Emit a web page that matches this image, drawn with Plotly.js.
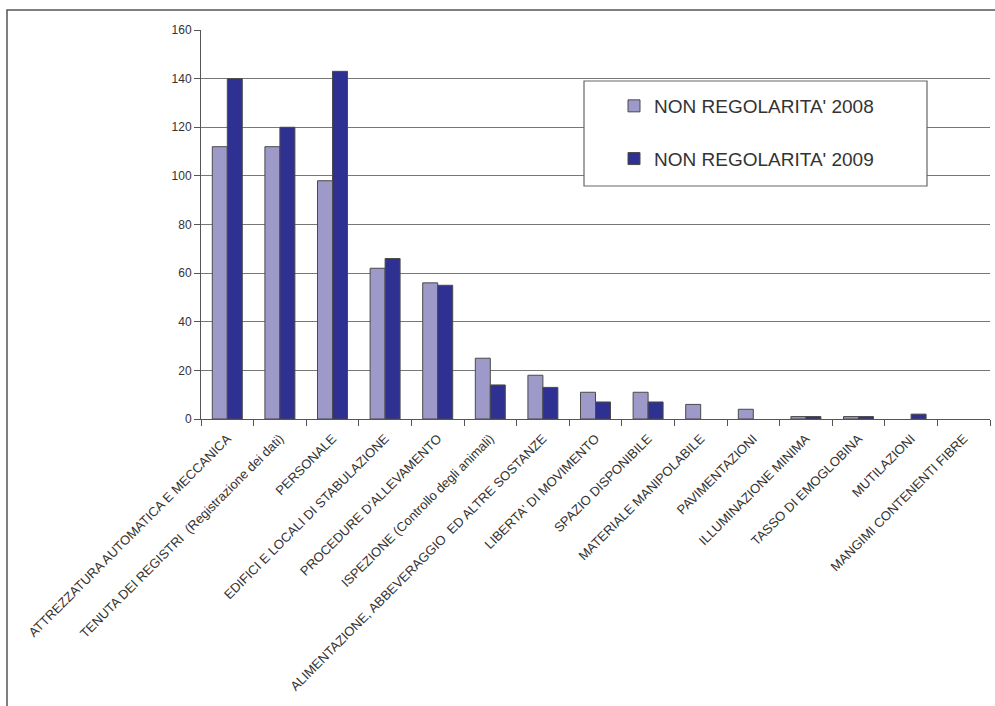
<!DOCTYPE html>
<html>
<head>
<meta charset="utf-8">
<script src="https://cdn.plot.ly/plotly-3.0.1.min.js"></script>
<style>
html,body{margin:0;padding:0;background:#fff;}
#chart{width:995px;height:706px;}
</style>
</head>
<body>
<div id="chart"></div>
<script>
var categories = [
  "ATTREZZATURA AUTOMATICA E MECCANICA",
  "TENUTA DEI REGISTRI  (Registrazione dei dati)",
  "PERSONALE",
  "EDIFICI E LOCALI DI STABULAZIONE",
  "PROCEDURE D'ALLEVAMENTO",
  "ISPEZIONE (Controllo degli animali)",
  "ALIMENTAZIONE, ABBEVERAGGIO  ED ALTRE SOSTANZE",
  "LIBERTA' DI MOVIMENTO",
  "SPAZIO DISPONIBILE",
  "MATERIALE MANIPOLABILE",
  "PAVIMENTAZIONI",
  "ILLUMINAZIONE MINIMA",
  "TASSO DI EMOGLOBINA",
  "MUTILAZIONI",
  "MANGIMI CONTENENTI FIBRE"
];
var values2008 = [112, 112, 98, 62, 56, 25, 18, 11, 11, 6, 4, 1, 1, 0, 0];
var values2009 = [140, 120, 143, 66, 55, 14, 13, 7, 7, 0, 0, 1, 1, 2, 0];
var seriesNames = ["NON REGOLARITA' 2008", "NON REGOLARITA' 2009"];
var yTicks = [0, 20, 40, 60, 80, 100, 120, 140, 160];

var FONT = "'Liberation Sans', Arial, sans-serif";
var W = 995, H = 706;
var L = 201, R = 5, T = 30, B = 287;
var pw = W - L - R, ph = H - T - B;
function px2x(p){ return (p - L) / pw; }
function py2y(p){ return (H - B - p) / ph; }
function outlineWidths(vals){ return vals.map(function(v){ return v === 0 ? 0 : 1; }); }

var traces = [
  {
    type: 'bar', x: categories, y: values2008, name: seriesNames[0],
    legendgroup: 'a',
    marker: {color: '#9d99c9', line: {color: '#4a4a4a', width: outlineWidths(values2008)}}
  },
  {
    type: 'bar', x: categories, y: values2009, name: seriesNames[1],
    legendgroup: 'b',
    marker: {color: '#2e3192', line: {color: '#4a4a4a', width: outlineWidths(values2009)}}
  }
];

var layout = {
  width: W, height: H,
  margin: {l: L, r: R, t: T, b: B, pad: 0},
  paper_bgcolor: '#ffffff',
  plot_bgcolor: '#ffffff',
  font: {family: FONT, color: '#333333', size: 11},
  barmode: 'group',
  bargap: 0.43,
  bargroupgap: 0,
  showlegend: true,
  legend: {
    x: px2x(614), y: py2y(87), xanchor: 'left', yanchor: 'top',
    xref: 'paper', yref: 'paper',
    bgcolor: 'rgba(0,0,0,0)', borderwidth: 0,
    font: {family: FONT, size: 19, color: '#333333'},
    traceorder: 'grouped', tracegroupgap: 25
  },
  xaxis: {
    type: 'category',
    tickangle: -45,
    tickson: 'boundaries',
    ticks: 'outside', ticklen: 6, tickcolor: '#555555', tickwidth: 1,
    showline: true, linecolor: '#555555', linewidth: 1,
    showgrid: false, zeroline: false,
    ticklabelstandoff: 6,
    tickfont: {family: FONT, size: 13, color: '#333333'},
    fixedrange: true
  },
  yaxis: {
    range: [0, 160],
    tickmode: 'array', tickvals: yTicks, ticktext: yTicks.map(String),
    ticks: 'outside', ticklen: 6, tickcolor: '#555555', tickwidth: 1,
    showline: true, linecolor: '#555555', linewidth: 1,
    showgrid: true, gridcolor: '#777777', gridwidth: 1,
    zeroline: false,
    tickfont: {family: FONT, size: 12, color: '#333333'},
    fixedrange: true
  },
  shapes: [
    {
      type: 'rect', xref: 'paper', yref: 'paper', layer: 'above',
      x0: px2x(584), x1: px2x(927), y0: py2y(186), y1: py2y(81),
      fillcolor: '#ffffff', line: {color: '#666666', width: 1.2}
    },
    {
      type: 'rect', xref: 'paper', yref: 'paper', layer: 'above',
      x0: px2x(7), x1: px2x(1010), y0: py2y(720), y1: py2y(10),
      fillcolor: 'rgba(0,0,0,0)', line: {color: '#555555', width: 1.5}
    }
  ]
};

Plotly.newPlot('chart', traces, layout, {displayModeBar: false, staticPlot: true});
</script>
</body>
</html>
